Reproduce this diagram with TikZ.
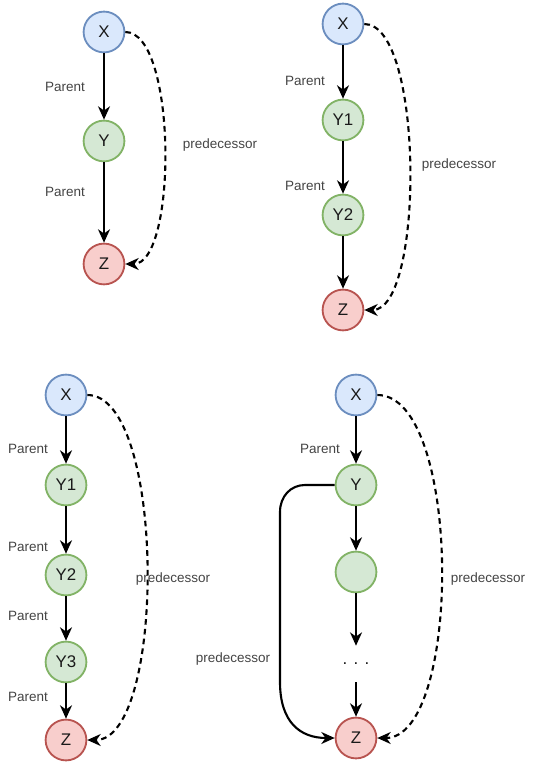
\documentclass[tikz,border=0pt]{standalone}
\usepackage{fontspec}
\setmainfont{Liberation Sans}
\usepackage{xcolor}
\usetikzlibrary{arrows.meta}

\definecolor{xfill}{HTML}{DAE8FC}
\definecolor{xline}{HTML}{6C8EBF}
\definecolor{yfill}{HTML}{D5E8D4}
\definecolor{yline}{HTML}{82B366}
\definecolor{zfill}{HTML}{F8CECC}
\definecolor{zline}{HTML}{B85450}
\definecolor{nodetext}{HTML}{1A1A1A}
\definecolor{lbltext}{HTML}{444444}

\begin{document}
\begin{tikzpicture}[x=0.025cm, y=-0.025cm,
  vert/.style={circle, draw, line width=1.3pt, minimum size=1.02cm, inner sep=0pt,
    font=\fontsize{12}{14}\selectfont, text=nodetext},
  xnode/.style={vert, fill=xfill, draw=xline},
  ynode/.style={vert, fill=yfill, draw=yline},
  znode/.style={vert, fill=zfill, draw=zline},
  lbl/.style={font=\fontsize{9.6}{11}\selectfont, text=lbltext},
  parentarrow/.style={-{Stealth[length=9.5pt,width=8.5pt,inset=3pt]}, line width=1.5pt},
  predarrow/.style={parentarrow, dash pattern=on 4pt off 3pt}]

\useasboundingbox (0,0) rectangle (532,780);

% X -> Y -> Z
\node[xnode] (p1X) at (104,32) {X};
\node[ynode] (p1Y) at (104,141) {Y};
\node[znode] (p1Z) at (104,264) {Z};
\draw[parentarrow] (p1X) -- (p1Y);
\draw[parentarrow] (p1Y) -- (p1Z);
\node[lbl] (p1L1) at (65,87) {Parent};
\node[lbl] (p1L2) at (65,192) {Parent};
\draw[predarrow] (p1X.east) .. controls +(52,0) and +(52,0) .. (p1Z.east);
\node[lbl] (p1P) at (220,145) {predecessor};

% X -> Y1 -> Y2 -> Z
\node[xnode] (p2X) at (343,24) {X};
\node[ynode] (p2Y1) at (343,120) {Y1};
\node[ynode] (p2Y2) at (343,215) {Y2};
\node[znode] (p2Z) at (343,310) {Z};
\draw[parentarrow] (p2X) -- (p2Y1);
\draw[parentarrow] (p2Y1) -- (p2Y2);
\draw[parentarrow] (p2Y2) -- (p2Z);
\node[lbl] (p2L1) at (305,81) {Parent};
\node[lbl] (p2L2) at (305,186) {Parent};
\draw[predarrow] (p2X.east) .. controls +(60,0) and +(60,0) .. (p2Z.east);
\node[lbl] (p2P) at (459,165) {predecessor};

% X -> Y1 -> Y2 -> Y3 -> Z
\node[xnode] (p3X) at (66,395) {X};
\node[ynode] (p3Y1) at (66,485) {Y1};
\node[ynode] (p3Y2) at (66,575) {Y2};
\node[ynode] (p3Y3) at (66,662) {Y3};
\node[znode] (p3Z) at (66,740) {Z};
\draw[parentarrow] (p3X) -- (p3Y1);
\draw[parentarrow] (p3Y1) -- (p3Y2);
\draw[parentarrow] (p3Y2) -- (p3Y3);
\draw[parentarrow] (p3Y3) -- (p3Z);
\node[lbl] (p3L1) at (28,449) {Parent};
\node[lbl] (p3L2) at (28,547) {Parent};
\node[lbl] (p3L3) at (28,616) {Parent};
\node[lbl] (p3L4) at (28,697) {Parent};
\draw[predarrow] (p3X.east) .. controls +(79,0) and +(79,0) .. (p3Z.east);
\node[lbl] (p3P) at (173,579) {predecessor};

% X -> Y -> ... -> Z
\node[xnode] (p4X) at (356,395) {X};
\node[ynode] (p4Y) at (356,485) {Y};
\node[ynode] (p4N) at (356,572) {};
\node[font=\fontsize{12}{14}\selectfont, text=nodetext, minimum height=0.9cm] (p4D) at (356,664) {. . .};
\node[znode] (p4Z) at (356,738) {Z};
\draw[parentarrow] (p4X) -- (p4Y);
\draw[parentarrow] (p4Y) -- (p4N);
\draw[parentarrow] (p4N) -- (p4D.north);
\draw[parentarrow] (p4D.south) -- (p4Z);
\node[lbl] (p4L1) at (320,449) {Parent};
\draw[parentarrow] (p4Y.west) -- (305,485) .. controls (291,485) and (280,496) .. (280,512)
  -- (280,682) .. controls (280,722) and (300,738) .. (p4Z.west);
\node[lbl] (p4Q) at (233,659) {predecessor};
\draw[predarrow] (p4X.east) .. controls +(85,0) and +(85,0) .. (p4Z.east);
\node[lbl] (p4P) at (488,579) {predecessor};
\end{tikzpicture}
\end{document}
